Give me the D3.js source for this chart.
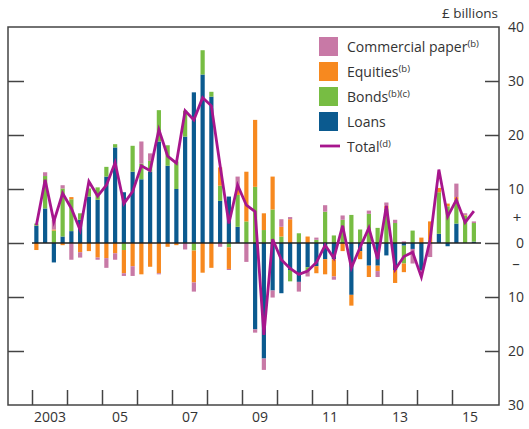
<!DOCTYPE html>
<html>
<head>
<meta charset="utf-8">
<script src="https://cdn.jsdelivr.net/npm/d3@7"></script>
<style>
  body { margin: 0; background: #fff; }
  svg text { font-family: "Open Sans", "Noto Sans", sans-serif; fill: #333; }
</style>
</head>
<body>
<div id="chart"></div>
<script>
// quarters 2003 Q1 .. 2015 Q3
const years = d3.range(2003, 2016).flatMap(y => [y, y, y, y]).slice(0, 51);
const quarters = d3.range(51).map(i => i % 4);

const loans = [3.2, 6.4, -3.6, 1.2, 2.2, 4.3, 8.6, 8.0, 12.3, 17.7, 9.4, 13.2, 11.8, 13.2, 18.8, 14.3,
  10.0, 19.7, 27.9, 31.2, 27.1, 7.8, 8.6, 3.0, 0, -16.0, -21.4, -8.8, -9.3, -5.0, -7.2, -4.5,
  -4.3, -3.0, -3.0, 0, -9.6, -1.5, -4.2, -4.2, -2.3, -5.0, -0.5, -1.1, -5.1, 0, 1.7, -0.6,
  3.6, 0, 0.25];
const bonds = [0.4, 6.0, 2.3, 8.9, 5.9, 1.2, 1.5, 2.3, 1.8, 0.6, -1.3, 4.8, 2.9, 2.0, 5.8, 3.8,
  5.1, 4.8, -1.4, 4.5, 0.9, 2.8, -0.8, 5.9, 4.0, 10.4, 2.4, 6.2, 1.2, -2.1, 1.8, -0.8,
  0.6, 5.8, 1.4, 4.3, 5.2, 2.5, 5.4, 2.8, 6.4, 3.7, -3.3, 2.3, 0, 0, 7.7, 6.8,
  4.4, 5.1, 3.45];
const equities = [-1.3, 0, 0.2, -0.4, 0.4, -1.7, -1.5, -2.7, -2.8, -1.9, -4.3, -4.3, -5.8, -4.4, -5.6, -0.7,
  -0.4, 0, -5.9, -5.5, -4.6, 3.4, -4.0, 1.2, 9.2, 12.4, 3.1, 6.1, 1.8, 4.4, 0, 1.2,
  -1.3, -2.8, -3.2, -1.5, -2.0, -1.5, -2.1, -1.0, 0.5, -2.4, -1.6, 0, 1.0, 4.0, 0.8, 0.5,
  0.5, 0.1, 0];
const commercialPaper = [0, 0.7, 1.8, 0.6, -3.1, -1.0, 0, -0.4, -1.8, -1.2, -0.5, -1.8, 4.1, 1.4, -0.2, 0,
  0, -1.2, -1.7, 0, 0, -0.7, -0.2, 2.2, -3.5, -0.6, -2.1, -1.3, 1.4, 0.4, -1.8, -0.9,
  0.4, 1.2, -0.6, 0.8, 0, 0, 0.6, -1.1, 0.6, 0.6, 0.3, -2.7, 0, -2.6, 0, 0,
  2.5, 0.3, 0.3];
const total = [3.3, 11.7, 4.0, 9.2, 6.4, 2.4, 11.4, 8.7, 10.7, 14.9, 7.3, 9.5, 14.3, 13.4, 21.0, 16.1,
  14.8, 24.5, 22.8, 26.9, 25.4, 14.3, 3.6, 10.7, 7.0, 5.8, -17.0, 0.7, -3.1, -4.7, -5.8, -5.2,
  -3.6, -0.4, -2.8, 3.2, -4.6, -0.8, 2.8, -3.0, 6.9, -4.9, -2.5, -1.7, -6.3, 0.6, 13.6, 4.9,
  8.0, 3.8, 5.9];

const yTicks = [-30, -20, -10, 0, 10, 20, 30, 40];
const yearTicks = d3.range(2003, 2016);
const yearLabels = [2003, 2005, 2007, 2009, 2011, 2013, 2015];

const keys = ['loans', 'bonds', 'equities', 'cp'];
const colors = { loans: '#0b5a8f', bonds: '#77bd43', equities: '#f7891f', cp: '#c879a6' };
const legendItems = [
  { key: 'cp', label: 'Commercial paper', sup: '(b)' },
  { key: 'equities', label: 'Equities', sup: '(b)' },
  { key: 'bonds', label: 'Bonds', sup: '(b)(c)' },
  { key: 'loans', label: 'Loans', sup: '' }
];

const width = 529, height = 429;
const frame = { left: 8, top: 27, right: 499, bottom: 405 };

const svg = d3.select('#chart').append('svg')
  .attr('width', width)
  .attr('height', height);

const x = d3.scaleLinear().domain([2003, 2016]).range([32, 487]);
const y = d3.scaleLinear().domain([-30, 40]).range([frame.bottom, frame.top]);

const rows = years.map((yr, i) => ({
  t: yr + (quarters[i] + 0.5) / 4,
  loans: loans[i], bonds: bonds[i], equities: equities[i], cp: commercialPaper[i], total: total[i]
}));

const series = d3.stack().keys(keys).offset(d3.stackOffsetDiverging)(rows);

// bars
const barW = 4.2;
svg.append('g').selectAll('g')
  .data(series)
  .join('g')
  .attr('fill', d => colors[d.key])
  .selectAll('rect')
  .data(d => d)
  .join('rect')
  .attr('x', d => x(d.data.t) - barW / 2)
  .attr('width', barW)
  .attr('y', d => y(Math.max(d[0], d[1])))
  .attr('height', d => Math.abs(y(d[0]) - y(d[1])));

// zero line
svg.append('line')
  .attr('x1', 32).attr('x2', 481)
  .attr('y1', y(0)).attr('y2', y(0))
  .attr('stroke', '#222').attr('stroke-width', 1.5);

// total line
svg.append('path')
  .datum(rows)
  .attr('fill', 'none')
  .attr('stroke', '#a7168d')
  .attr('stroke-width', 2.8)
  .attr('stroke-linejoin', 'miter')
  .attr('d', d3.line().x(d => x(d.t)).y(d => y(d.total)));

// frame
svg.append('rect')
  .attr('x', frame.left).attr('y', frame.top)
  .attr('width', frame.right - frame.left).attr('height', frame.bottom - frame.top)
  .attr('fill', 'none').attr('stroke', '#444').attr('stroke-width', 1.5);

// right axis
const rightAxis = svg.append('g')
  .attr('transform', `translate(${frame.right},0)`)
  .call(d3.axisRight(y).tickValues(yTicks).tickSizeInner(-14).tickSizeOuter(0)
    .tickPadding(12).tickFormat(d => Math.abs(d)));
rightAxis.select('.domain').remove();
rightAxis.selectAll('line').attr('stroke', '#444').attr('stroke-width', 1.5)
  .filter(d => d === 40 || d === -30).remove();
rightAxis.selectAll('text')
  .attr('text-anchor', 'end').attr('x', 25)
  .style('font-size', '14px').style('font-family', '"Open Sans", sans-serif').attr('fill', '#333');

// signs next to zero
svg.append('text').attr('x', 517).attr('y', y(4.6)).attr('dy', '0.35em')
  .attr('text-anchor', 'middle').style('font-size', '15px').text('+');
svg.append('text').attr('x', 516).attr('y', y(-3.8)).attr('dy', '0.35em')
  .attr('text-anchor', 'middle').style('font-size', '15px').text('–');

// left ticks
const leftAxis = svg.append('g')
  .attr('transform', `translate(${frame.left},0)`)
  .call(d3.axisLeft(y).tickValues(yTicks.filter(d => d > -30 && d < 40))
    .tickSizeInner(-16).tickSizeOuter(0).tickFormat(''));
leftAxis.select('.domain').remove();
leftAxis.selectAll('line').attr('stroke', '#444').attr('stroke-width', 1.5);

// bottom ticks
const bottomAxis = svg.append('g')
  .attr('transform', `translate(0,${frame.bottom})`)
  .call(d3.axisBottom(x).tickValues(yearTicks).tickSizeInner(-15).tickSizeOuter(0).tickFormat(''));
bottomAxis.select('.domain').remove();
bottomAxis.selectAll('line').attr('stroke', '#444').attr('stroke-width', 1.5);

// year labels
const labelAxis = svg.append('g')
  .attr('transform', `translate(0,${frame.bottom})`)
  .call(d3.axisBottom(x).tickValues(yearLabels.map(d => d + 0.5)).tickSize(0).tickPadding(7)
    .tickFormat(d => {
      const yr = Math.floor(d);
      return yr === 2003 ? '2003' : String(yr).slice(2);
    }));
labelAxis.select('.domain').remove();
labelAxis.selectAll('text')
  .style('font-size', '14px').style('font-family', '"Open Sans", sans-serif').attr('fill', '#333');

// units
svg.append('text').attr('x', 498).attr('y', 18).attr('text-anchor', 'end')
  .style('font-size', '13.5px').text('£ billions');

// legend
const legend = svg.append('g');
legendItems.forEach((item, i) => {
  const ly = 37 + i * 25;
  legend.append('rect').attr('x', 319).attr('y', ly).attr('width', 19).attr('height', 19)
    .attr('fill', colors[item.key]);
  const t = legend.append('text').attr('x', 347).attr('y', ly + 15).style('font-size', '14px');
  t.append('tspan').text(item.label);
  if (item.sup) t.append('tspan').attr('dy', -5).style('font-size', '9.5px').text(item.sup);
});
legend.append('line').attr('x1', 320).attr('x2', 340).attr('y1', 146).attr('y2', 146)
  .attr('stroke', '#a7168d').attr('stroke-width', 2.8);
const tt = legend.append('text').attr('x', 347).attr('y', 152).style('font-size', '14px');
tt.append('tspan').text('Total');
tt.append('tspan').attr('dy', -5).style('font-size', '9.5px').text('(d)');
</script>
</body>
</html>
